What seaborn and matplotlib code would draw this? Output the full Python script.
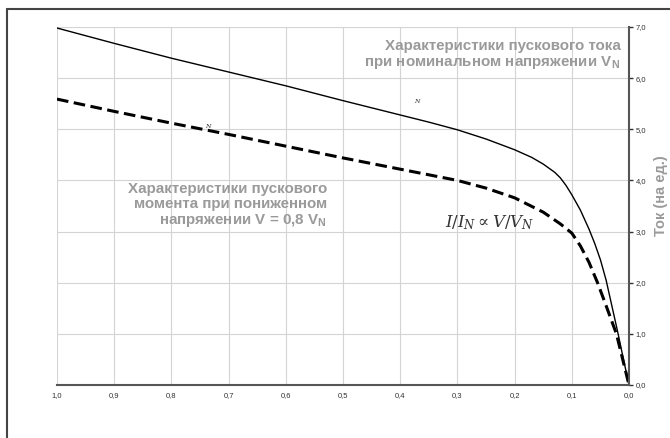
import matplotlib
matplotlib.use("Agg")
import matplotlib.pyplot as plt
from matplotlib.lines import Line2D
import seaborn as sns
import pandas as pd

# Data
slip_solid = [1.0, 0.9, 0.8, 0.7, 0.6, 0.5, 0.4, 0.35, 0.3, 0.25, 0.2, 0.17, 0.15, 0.13, 0.12, 0.11, 0.1,
              0.085, 0.07, 0.06, 0.05, 0.04, 0.03, 0.02, 0.01, 0.0]
current_nominal = [6.98, 6.68, 6.39, 6.12, 5.85, 5.56, 5.28, 5.14, 4.99, 4.81, 4.6, 4.45, 4.32, 4.16, 4.05, 3.9, 3.72,
                   3.42, 3.05, 2.77, 2.45, 2.05, 1.55, 1.05, 0.52, 0.0]
slip_dashed = [1.0, 0.9, 0.8, 0.7, 0.6, 0.5, 0.4, 0.3, 0.25, 0.2, 0.15, 0.12, 0.1, 0.085, 0.07, 0.055,
               0.04, 0.022, 0.0]
current_reduced = [5.59, 5.35, 5.12, 4.9, 4.67, 4.44, 4.22, 4.0, 3.85, 3.66, 3.38, 3.15, 2.97, 2.72, 2.4, 2.0,
                   1.55, 1.0, 0.0]
x_ticks = [1.0, 0.9, 0.8, 0.7, 0.6, 0.5, 0.4, 0.3, 0.2, 0.1, 0.0]
x_tick_labels = ["1,0", "0,9", "0,8", "0,7", "0,6", "0,5", "0,4", "0,3", "0,2", "0,1", "0,0"]
y_ticks = [0, 1, 2, 3, 4, 5, 6, 7]
y_tick_labels = ["0,0", "1,0", "2,0", "3,0", "4,0", "5,0", "6,0", "7,0"]

df_solid = pd.DataFrame({"s": slip_solid, "i": current_nominal})
df_dashed = pd.DataFrame({"s": slip_dashed, "i": current_reduced})

sns.set_style("white")
plt.rcParams['font.family'] = ['Liberation Sans', 'DejaVu Sans']

fig = plt.figure(figsize=(6.7, 4.38), dpi=100)
ax = fig.add_axes([57/670, 1-385/438, (629-57)/670, (385-27)/438])

sns.lineplot(data=df_solid, x="s", y="i", ax=ax, color="black", linewidth=1.0,
             sort=False, estimator=None)
sns.lineplot(data=df_dashed, x="s", y="i", ax=ax, color="black", linewidth=2.2,
             linestyle=(0, (3.8, 1.8)), sort=False, estimator=None)

ax.set_xlim(1.0, 0.0)
ax.set_ylim(0, 7)
ax.set_xticks(x_ticks)
ax.set_xticklabels(x_tick_labels)
ax.set_yticks(y_ticks)
ax.set_yticklabels(y_tick_labels)
ax.yaxis.tick_right()
ax.yaxis.set_label_position("right")
ax.tick_params(axis="both", labelsize=5.5, length=3, width=1, direction="out",
               colors="#333333", pad=2)
ax.set_xlabel("")
ax.set_ylabel("Ток (на ед.)", fontsize=10.5, fontweight="bold", color="#9a9a9a")
ax.yaxis.set_label_coords(1.043, 0.528)
ax.grid(True, color="#d4d4d4", linewidth=0.8)
ax.set_axisbelow(True)
for sp in ["top", "left"]:
    ax.spines[sp].set_visible(False)
for sp in ["bottom", "right"]:
    ax.spines[sp].set_color("#555555")
    ax.spines[sp].set_linewidth(1.5)

gray = "#9a9a9a"
ax.text(0.015, 6.46, "Характеристики пускового тока\nпри номинальном напряжении V$_\\mathregular{N}$",
        ha="right", va="center", fontsize=10.9, fontweight="bold", color=gray, linespacing=1.1)
ax.text(0.528, 3.51, "Характеристики пускового\nмомента при пониженном\nнапряжении V = 0,8 V$_\\mathregular{N}$",
        ha="right", va="center", fontsize=10.9, fontweight="bold", color=gray, linespacing=1.1)
ax.text(0.243, 3.18, r"$I/I_N \propto V/V_N$", ha="center", va="center", fontsize=12,
        math_fontfamily="dejavuserif", color="#333333")
ax.text(0.371, 5.54, "N", fontsize=4.5, style="italic", family="DejaVu Serif", ha="center", va="center")
ax.text(0.736, 5.05, "N", fontsize=4.5, style="italic", family="DejaVu Serif", ha="center", va="center")

# outer frame
fig.add_artist(Line2D([7/670, 7/670], [0, 1-9/438], color="#444444", linewidth=1.5))
fig.add_artist(Line2D([7/670, 1], [1-9/438, 1-9/438], color="#444444", linewidth=1.5))

fig.savefig("out.png", dpi=100)
